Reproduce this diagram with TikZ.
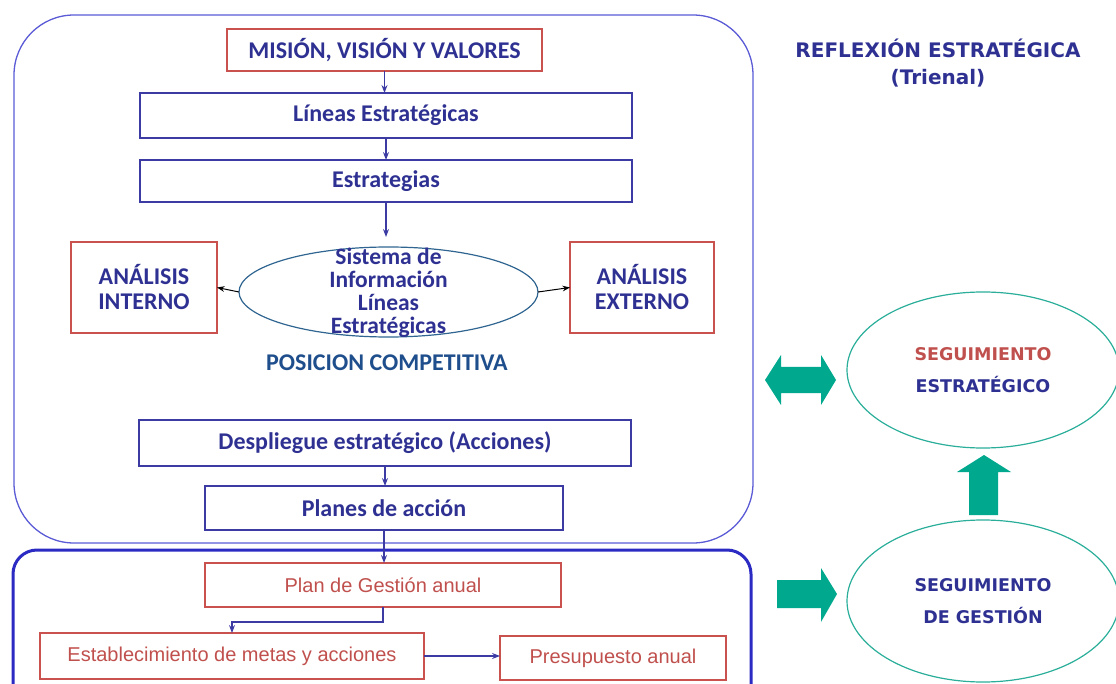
\documentclass[tikz,border=0pt]{standalone}
\usepackage{fontspec}
\setmainfont{Carlito}
\newfontfamily\verdana{DejaVu Sans}
\newfontfamily\arialish{Liberation Sans}
\usetikzlibrary{shapes.geometric, arrows.meta}

\definecolor{frameblue}{HTML}{5B5BD6}
\definecolor{thickblue}{HTML}{2B2BC4}
\definecolor{boxblue}{HTML}{3B3BA3}
\definecolor{boxred}{HTML}{C9514E}
\definecolor{txtblue}{HTML}{2E3192}
\definecolor{txtred}{HTML}{C0504D}
\definecolor{posblue}{HTML}{1F4E8C}
\definecolor{ellblue}{HTML}{2F6590}
\definecolor{ringgreen}{HTML}{2AAE9A}
\definecolor{seagreen}{HTML}{00A88E}

\newcommand\boxfont{\bfseries\fontsize{24}{25}\selectfont}
\newcommand\ringfont{\verdana\bfseries\fontsize{17.5}{32}\selectfont}
\newcommand\redfont{\arialish\fontsize{20}{24}\selectfont}

\begin{document}
\begin{tikzpicture}[x=1pt,y=-1pt]
\tikzset{ >=Stealth, inner sep=0pt, outer sep=0pt,
  bluebox/.style={draw=boxblue, line width=1.3pt, text=txtblue, font=\boxfont},
  redbox/.style={draw=boxred, line width=1.3pt, text=txtblue, font=\boxfont, align=center},
  planbox/.style={draw=boxred, line width=1.3pt, text=txtred, font=\redfont},
  ring/.style={ellipse, draw=ringgreen, line width=1.2pt, text=txtblue, font=\ringfont, align=center},
  link/.style={->, boxblue, line width=1.1pt},
}

\useasboundingbox (0,0) rectangle (1116,684);

% frames
\draw [frameblue, line width=1.3pt, rounded corners=60pt] (14,15) rectangle (753,543);
\draw [thickblue, line width=3pt, rounded corners=24pt] (13,550) rectangle (751,710);

\node [redbox, minimum width=315, minimum height=42] (MVV) at (384.5,50) {MISIÓN, VISIÓN Y VALORES};
\node [bluebox, minimum width=492, minimum height=45] (LE) at (386,115.5) {Líneas Estratégicas};
\node [bluebox, minimum width=492, minimum height=42] (EST) at (386,181) {Estrategias};

% the text spills over the ellipse, so it sits on top of it
\node [ellipse, draw=ellblue, line width=1.2pt, minimum width=299, minimum height=90] (SIS) at (388.5,292) {};
\node [text=txtblue, align=center, font=\bfseries\fontsize{23.5}{23}\selectfont] (SIStxt) at (388.5,293)
       {Sistema de\\Información\\Líneas\\Estratégicas};
\node [redbox, minimum width=146, minimum height=91] (AI) at (144,287.5) {ANÁLISIS\\INTERNO};
\node [redbox, minimum width=144, minimum height=91] (AE) at (642,287.5) {ANÁLISIS\\EXTERNO};
\node [text=posblue, font=\boxfont] (POS) at (387,363) {POSICION COMPETITIVA};

\node [bluebox, minimum width=492, minimum height=46] (DES) at (385,443) {Despliegue estratégico (Acciones)};
\node [bluebox, minimum width=358, minimum height=44] (PLA) at (384,508) {Planes de acción};

\node [planbox, minimum width=356, minimum height=44] (PGA) at (383,585) {Plan de Gestión anual};
\node [planbox, minimum width=384, minimum height=46] (EMA) at (232,656) {Establecimiento de metas y acciones};
\node [planbox, minimum width=226, minimum height=44] (PRE) at (613,658) {Presupuesto anual};

\draw [link] (MVV.south) -- (MVV.south |- LE.north);
\draw [link] (LE.south) -- (EST.north);
\draw [link, shorten >=10pt] (EST.south) -- (EST.south |- SIS.north);
\draw [->, black, line width=1pt] (SIS.west) -- (AI.east);
\draw [->, black, line width=1pt] (SIS.east) -- (AE.west);
\draw [link] (DES.south) -- (DES.south |- PLA.north);
\draw [link] (PLA.south) -- (PLA.south |- PGA.north);
\draw [link] (PGA.south) -- ++(0,15) -| (EMA.north);
\draw [link] (EMA.east) -- (PRE.west |- EMA.east);

% right column
\node [text=txtblue, font=\verdana\bfseries\fontsize{20}{27}\selectfont, align=center] (REF) at (938,63)
      {REFLEXIÓN ESTRATÉGICA\\(Trienal)};
\node [ring, minimum width=272, minimum height=156] (SE) at (983,370) {{\color{txtred}SEGUIMIENTO}\\ESTRATÉGICO};
\node [ring, minimum width=272, minimum height=162] (SG) at (983,601) {SEGUIMIENTO\\DE GESTIÓN};

\fill [seagreen] (765,380) -- (781,355) -- (781,367) -- (821,367) -- (821,355) -- (836,380)
      -- (821,405) -- (821,393) -- (781,393) -- (781,405) -- cycle;
\fill [seagreen] (984,455) -- (1011,472) -- (998,472) -- (998,515) -- (969,515) -- (969,472) -- (957,472) -- cycle;
\fill [seagreen] (837,594) -- (821,568) -- (821,580) -- (777,580) -- (777,608) -- (821,608) -- (821,622) -- cycle;

\end{tikzpicture}
\end{document}
